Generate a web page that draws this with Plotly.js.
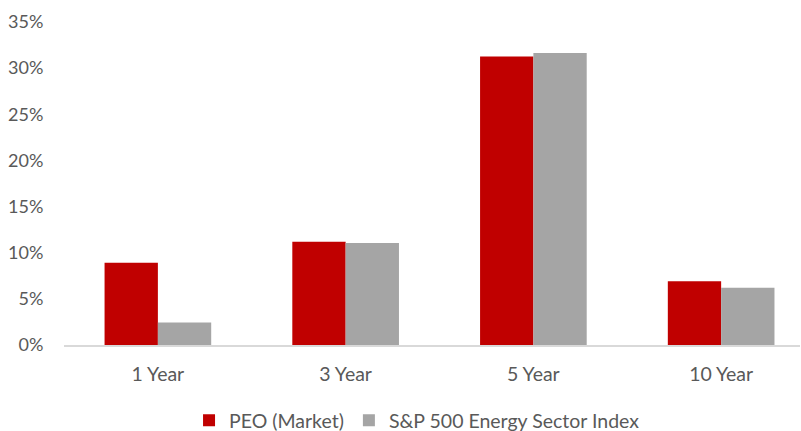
<!DOCTYPE html>
<html>
<head>
<meta charset="utf-8">
<script src="https://cdn.plot.ly/plotly-3.0.1.min.js"></script>
<style>html,body{margin:0;padding:0;background:#fff;}#chart{width:801px;height:431px;}</style>
</head>
<body>
<div id="chart"></div>
<script>
const categories = ["1 Year", "3 Year", "5 Year", "10 Year"];
const seriesNames = ["PEO (Market)", "S&P 500 Energy Sector Index"];
const peoValues = [8.9, 11.2, 31.25, 6.9];
const spxValues = [2.45, 11.05, 31.65, 6.2];
const yTickVals = [0, 5, 10, 15, 20, 25, 30, 35];
const yTickText = ["0%", "5%", "10%", "15%", "20%", "25%", "30%", "35%"];

const font = {family: "Lato, 'Open Sans', sans-serif", size: 18, color: "#595959"};
const xFont = {family: "Lato, 'Open Sans', sans-serif", size: 19.5, color: "#595959"};
const legendFont = {family: "Lato, 'Open Sans', sans-serif", size: 19.5, color: "#595959"};

const traces = [
  {type: "bar", name: seriesNames[0], x: categories, y: peoValues,
   marker: {color: "#c00000", line: {width: 0}}, hoverinfo: "skip"},
  {type: "bar", name: seriesNames[1], x: categories, y: spxValues,
   marker: {color: "#a5a5a5", line: {width: 0}}, hoverinfo: "skip"}
];

const layout = {
  width: 801, height: 431,
  margin: {l: 64, r: 1, t: 21.5, b: 85.5, autoexpand: false},
  paper_bgcolor: "#ffffff", plot_bgcolor: "#ffffff",
  font: font,
  barmode: "group", bargap: 0.432, bargroupgap: 0,
  showlegend: true,
  legend: {orientation: "h", xref: "container", yref: "container",
           x: 0.236, xanchor: "left", y: 0.024, yanchor: "middle",
           font: legendFont, traceorder: "normal", itemclick: false, tracegroupgap: 0},
  xaxis: {type: "category", range: [-0.5, 3.42], showgrid: false, zeroline: false,
          showline: true, linecolor: "#d9d9d9", linewidth: 1.5,
          ticks: "outside", ticklen: 11, tickcolor: "rgba(0,0,0,0)", tickfont: xFont},
  yaxis: {range: [0, 35], tickvals: yTickVals, ticktext: yTickText, showgrid: false,
          zeroline: false, showline: false, ticks: "outside", ticklen: 16,
          tickcolor: "rgba(0,0,0,0)", tickfont: font}
};

Plotly.newPlot("chart", traces, layout, {staticPlot: true, displayModeBar: false});
</script>
</body>
</html>
